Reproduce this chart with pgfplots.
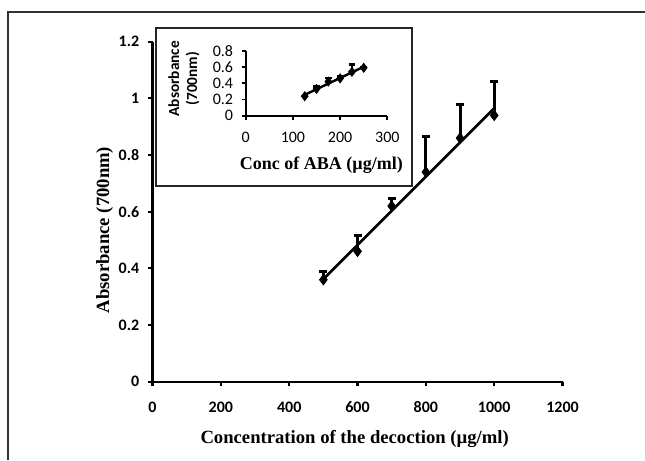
\documentclass[border=0pt]{standalone}
\usepackage{pgfplots}
\pgfplotsset{compat=1.18}
\usepackage{pgfplotstable}
\usepackage{fontspec}
\setmainfont{Liberation Serif}
\newfontfamily\calfont{Carlito}

% main series: concentration of the decoction, absorbance, + error
\pgfplotstableread{
x    y     e
500  0.36  0.03
600  0.46  0.056
700  0.62  0.027
800  0.74  0.126
900  0.86  0.118
1000 0.94  0.12
}\maindata

% inset: ABA standard
\pgfplotstableread{
x    y     e
125  0.24  0.005
150  0.33  0.03
175  0.42  0.04
200  0.46  0.03
225  0.54  0.09
250  0.59  0.01
}\abadata

\pgfplotsset{
  skel/.style={
    scale only axis,
    axis lines*=left,
    axis line style={line width=1.6pt},
    tick style={line width=1.6pt, black},
    tick align=outside,
    major tick length=3.5pt,
    /pgf/number format/assume math mode=true,
    clip=false,
  },
}

\begin{document}
\begin{tikzpicture}[x=1pt,y=1pt]
\useasboundingbox (0,0) rectangle (483.75,345);
% outer frame (top and left only)
\draw[line width=1.1pt, black!80] (483.75,336) -- (6,336) -- (6,0);

% main axis
\begin{axis}[skel,
  at={(114.4pt,58.7pt)}, anchor=origin,
  width=307.5pt, height=255pt,
  xmin=0, xmax=1200, ymin=0, ymax=1.2,
  xtick={0,200,...,1200}, ytick={0,0.2,...,1.2},
  yticklabels={0,0.2,0.4,0.6,0.8,1,1.2},
  scaled x ticks=false,
  ticklabel style={font=\calfont\bfseries\fontsize{12}{12}\selectfont},
  xticklabel style={yshift=-8pt},
  yticklabel style={xshift=-3pt},
  /pgf/number format/1000 sep={},
]
\addplot[line width=2pt, black, no marks]
  table[x=x, y={create col/linear regression={y=y}}] {\maindata};
\addplot[only marks, mark=diamond*, mark size=4pt, black,
  error bars/.cd, y dir=plus, y explicit,
  error bar style={line width=2.2pt},
  error mark options={line width=2.2pt, mark size=3pt, rotate=90}]
  table[x=x, y=y, y error=e] {\maindata};
\end{axis}

% inset box
\fill[white] (117,205.5) rectangle (309,324);
\draw[line width=1.4pt, black!85] (117,205.5) rectangle (309,324);

\begin{axis}[skel,
  at={(184.3pt,258.2pt)}, anchor=origin,
  width=106.2pt, height=48.75pt,
  xmin=0, xmax=300, ymin=0, ymax=0.8,
  xtick={0,100,200,300}, ytick={0,0.2,...,0.8},
  yticklabels={0,0.2,0.4,0.6,0.8},
  axis line style={line width=1.3pt},
  tick style={line width=1.3pt, black},
  major tick length=3pt,
  ticklabel style={font=\calfont\fontsize{12}{12}\selectfont},
  xticklabel style={yshift=-6pt},
  yticklabel style={xshift=-3pt},
]
\addplot[line width=1.8pt, black, no marks]
  table[x=x, y={create col/linear regression={y=y}}] {\abadata};
\addplot[only marks, mark=diamond*, mark size=3.5pt, black,
  error bars/.cd, y dir=plus, y explicit,
  error bar style={line width=1.6pt},
  error mark options={line width=1.6pt, mark size=2.5pt, rotate=90}]
  table[x=x, y=y, y error=e] {\abadata};
\end{axis}

% axis titles
\node[font=\bfseries\fontsize{14}{15}\selectfont] at (266,16) {Concentration of the decoction (µg/ml)};
\node[font=\bfseries\fontsize{14}{15}\selectfont, rotate=90] at (78.5,172.5) {Absorbance (700nm)};
\node[font=\bfseries\fontsize{13.5}{15}\selectfont] at (241,221) {Conc of ABA (µg/ml)};
\node[font=\calfont\bfseries\fontsize{11.5}{13.5}\selectfont, rotate=90, align=center] at (138,286) {Absorbance\\(700nm)};
\end{tikzpicture}
\end{document}
